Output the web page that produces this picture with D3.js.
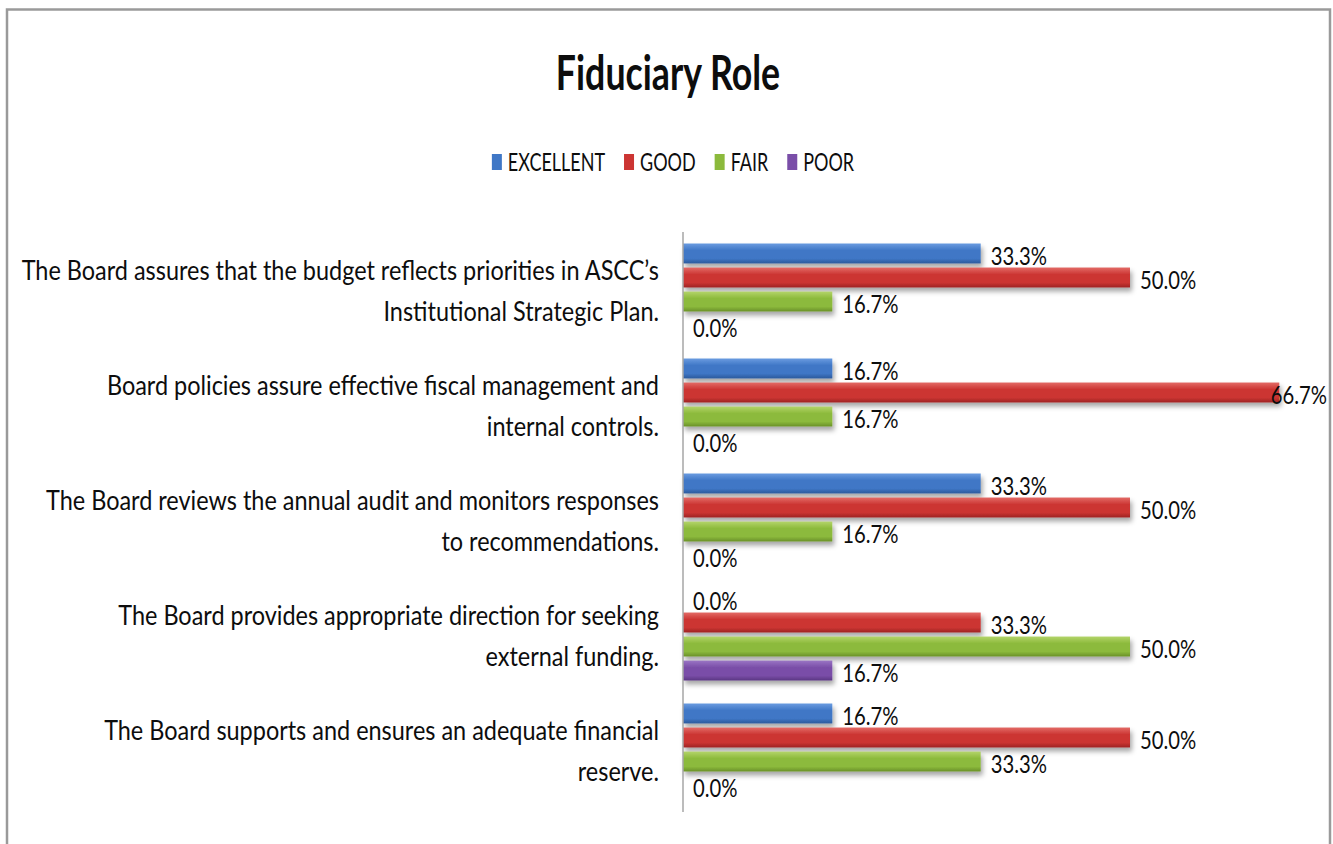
<!DOCTYPE html>
<html>
<head>
<meta charset="utf-8">
<script src="https://cdn.jsdelivr.net/npm/d3@7"></script>
<style>
  html, body { margin: 0; padding: 0; background: #fff; }
  svg { display: block; }
  text { font-family: "Lato", "Open Sans", sans-serif; fill: #0d0d0d; }
</style>
</head>
<body>
<div id="chart"></div>
<script>
// category labels, one array of lines per category
const categories = [
    ["The Board assures that the budget reflects priorities in ASCC\u2019s", "Institutional Strategic Plan."],
    ["Board policies assure effective fiscal management and", "internal controls."],
    ["The Board reviews the annual audit and monitors responses", "to recommendations."],
    ["The Board provides appropriate direction for seeking", "external funding."],
    ["The Board supports and ensures an adequate financial", "reserve."]
];
const seriesNames = ["EXCELLENT", "GOOD", "FAIR", "POOR"];
const excellent = [0.333, 0.167, 0.333, 0.000, 0.167];
const good      = [0.500, 0.667, 0.500, 0.333, 0.500];
const fair      = [0.167, 0.167, 0.167, 0.500, 0.333];
const poor      = [0.000, 0.000, 0.000, 0.167, 0.000];
const seriesValues = [excellent, good, fair, poor];

const width = 1333, height = 844;

// colours per series: light top, main, dark bottom
const colours = [
    ["#6a9be0", "#3f77c6", "#2c5a9c"],
    ["#e36a66", "#cc3533", "#9e2422"],
    ["#b3d46a", "#8cba3c", "#6a9128"],
    ["#9a74c4", "#7a4ea8", "#5b3683"]
];

const svg = d3.select("#chart").append("svg")
    .attr("width", width)
    .attr("height", height);

const defs = svg.append("defs");
colours.forEach((c, i) => {
    const g = defs.append("linearGradient")
        .attr("id", "grad" + i)
        .attr("x1", 0).attr("y1", 0).attr("x2", 0).attr("y2", 1);
    g.append("stop").attr("offset", "0%").attr("stop-color", c[0]);
    g.append("stop").attr("offset", "35%").attr("stop-color", c[1]);
    g.append("stop").attr("offset", "75%").attr("stop-color", c[1]);
    g.append("stop").attr("offset", "100%").attr("stop-color", c[2]);
});
defs.append("filter").attr("id", "shadow")
    .attr("x", "-5%").attr("y", "-30%").attr("width", "115%").attr("height", "190%")
    .append("feDropShadow")
    .attr("dx", 2).attr("dy", 4).attr("stdDeviation", 2.5)
    .attr("flood-color", "#000").attr("flood-opacity", 0.35);

// outer frame
svg.append("rect")
    .attr("x", 7).attr("y", 9.5)
    .attr("width", 1323).attr("height", 900)
    .attr("fill", "none")
    .attr("stroke", "#9a9a9a")
    .attr("stroke-width", 2.5);

// place a text squeezed horizontally (the source uses a narrow face)
function squeeze(sel, x, y, sx) {
    return sel.attr("x", 0).attr("y", 0)
        .attr("transform", `translate(${x},${y}) scale(${sx},1)`);
}

// title
squeeze(svg.append("text"), 668, 90, 0.76)
    .attr("text-anchor", "middle")
    .attr("font-size", 47)
    .attr("font-weight", 700)
    .text("Fiduciary Role");

// scales
const x = d3.scaleLinear().domain([0, 0.7]).range([683, 683 + 0.7 * 894]);
const y = d3.scaleBand().domain(d3.range(categories.length)).range([232, 807]);
const ySub = d3.scaleBand().domain(d3.range(seriesNames.length))
    .range([11.5, y.bandwidth() - 11.5]).paddingInner(0.17);

// legend
const legendSx = 0.72;
const legend = svg.append("g");
let lx = 0;
seriesNames.forEach((name, i) => {
    const item = legend.append("g").attr("transform", `translate(${lx},0)`);
    item.append("rect")
        .attr("x", 0).attr("y", -8)
        .attr("width", 10).attr("height", 16)
        .attr("fill", colours[i][1]);
    const t = squeeze(item.append("text"), 16, 9, legendSx)
        .attr("font-size", 25)
        .text(name);
    lx += 16 + t.node().getComputedTextLength() * legendSx + 19;
});
legend.attr("transform", `translate(${673 - (lx - 19) / 2},162)`);

// bars
const groups = svg.append("g").selectAll("g")
    .data(categories)
    .join("g")
    .attr("transform", (d, i) => `translate(0,${y(i)})`);

groups.each(function (d, ci) {
    const g = d3.select(this);
    seriesValues.forEach((vals, si) => {
        const v = vals[ci];
        if (v > 0) {
            g.append("rect")
                .attr("x", x(0))
                .attr("y", ySub(si))
                .attr("width", x(v) - x(0))
                .attr("height", ySub.bandwidth())
                .attr("fill", `url(#grad${si})`)
                .attr("filter", "url(#shadow)");
        }
    });
});

// value labels
const labelSx = 0.81;
groups.each(function (d, ci) {
    const g = d3.select(this);
    seriesValues.forEach((vals, si) => {
        const v = vals[ci];
        const t = g.append("text")
            .attr("font-size", 25)
            .attr("dominant-baseline", "central")
            .text(d3.format(".1%")(v));
        const w = t.node().getComputedTextLength() * labelSx;
        const lxPos = Math.min(x(v) + 10, 1327 - w);
        squeeze(t, lxPos, ySub(si) + ySub.bandwidth() / 2 + 2, labelSx);
    });
});

// axis line only
svg.append("g")
    .attr("transform", `translate(${x(0)},0)`)
    .call(d3.axisLeft(y).tickSize(0).tickFormat(""))
    .call(a => a.select(".domain").attr("stroke", "#a6a6a6").attr("stroke-width", 1.5)
        .attr("d", "M0,232V812"));

// category labels
const catSx = 0.885;
groups.each(function (lines) {
    const g = d3.select(this);
    const mid = y.bandwidth() / 2;
    lines.forEach((line, li) => {
        squeeze(g.append("text"), 659, mid + (li - (lines.length - 1) / 2) * 41, catSx)
            .attr("text-anchor", "end")
            .attr("dominant-baseline", "central")
            .attr("font-size", 26.5)
            .text(line);
    });
});
</script>
</body>
</html>
